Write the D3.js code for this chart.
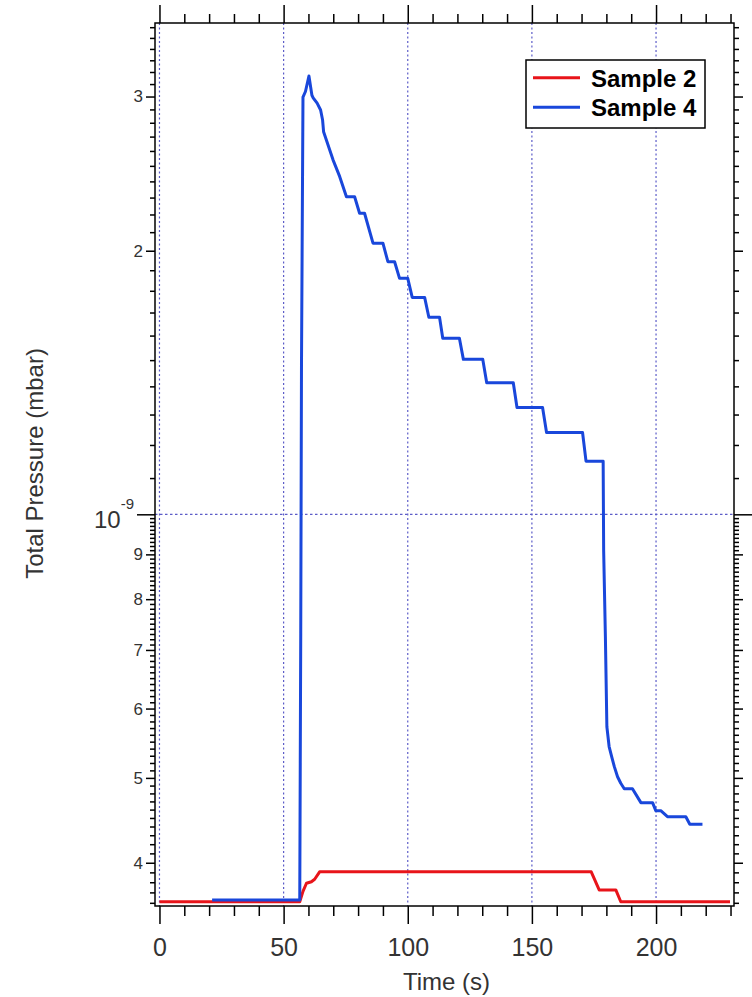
<!DOCTYPE html>
<html>
<head>
<meta charset="utf-8">
<script src="https://cdn.jsdelivr.net/npm/d3@7"></script>
<style>
  body { margin: 0; background: #fff; }
  text { font-family: Arial, "Liberation Sans", sans-serif; }
</style>
</head>
<body>
<div id="chart"></div>
<script>
// Sample 2 (red)
const sample2Time = [0, 56.5, 57.8, 59.2, 61.2, 62.5, 64.5, 173.9, 177.1, 183.8, 185.8, 229.8];
const sample2P = [3.61e-10, 3.61e-10, 3.71e-10, 3.79e-10, 3.805e-10, 3.83e-10, 3.906e-10, 3.906e-10, 3.724e-10, 3.724e-10, 3.61e-10, 3.61e-10];

// Sample 4 (blue)
const sample4Time = [21.2, 56.5, 56.9, 57.2, 57.8, 58.8, 60.2, 61.4, 61.9, 63.5, 64.9, 65.7, 66.1, 69.9, 72.6,
  75.3, 78.6, 80.6, 82.6, 86.0, 90.0, 92.0, 94.7, 96.7, 100.0, 101.8, 106.8, 108.5, 112.8, 114.1, 120.8,
  122.4, 130.2, 131.8, 142.5, 144.0, 154.3, 155.9, 170.4, 171.8, 178.7, 178.9, 179.6, 180.2, 181.1, 182.1,
  183.2, 184.5, 185.8, 187.2, 190.5, 193.9, 198.6, 199.9, 201.9, 204.6, 212.0, 213.6, 218.7];
const sample4P = [3.626e-10, 3.626e-10, 7.32e-10, 1.48e-9, 2.995e-9, 3.04e-9, 3.166e-9, 3.01e-9, 2.99e-9,
  2.948e-9, 2.896e-9, 2.82e-9, 2.735e-9, 2.54e-9, 2.43e-9, 2.305e-9, 2.305e-9, 2.207e-9, 2.207e-9, 2.04e-9,
  2.04e-9, 1.943e-9, 1.943e-9, 1.86e-9, 1.86e-9, 1.769e-9, 1.769e-9, 1.679e-9, 1.679e-9, 1.589e-9, 1.589e-9,
  1.503e-9, 1.503e-9, 1.413e-9, 1.413e-9, 1.324e-9, 1.324e-9, 1.24e-9, 1.24e-9, 1.15e-9, 1.15e-9, 9.1e-10,
  7.25e-10, 5.72e-10, 5.43e-10, 5.29e-10, 5.15e-10, 5.015e-10, 4.93e-10, 4.86e-10, 4.86e-10, 4.685e-10,
  4.685e-10, 4.587e-10, 4.587e-10, 4.515e-10, 4.515e-10, 4.426e-10, 4.426e-10];

// axis ticks
const xMajorTicks = [0, 50, 100, 150, 200];
const yLabelTicks = [4e-10, 5e-10, 6e-10, 7e-10, 8e-10, 9e-10, 2e-9, 3e-9];
const yLabelText = ["4", "5", "6", "7", "8", "9", "2", "3"];
const yDecade = 1e-9;

const seriesNames = ["Sample 2", "Sample 4"];
const seriesColors = ["#e8141a", "#1947db"];

const width = 752, height = 997;
const m = { left: 155, right: 734, top: 23, bottom: 906 };

const svg = d3.select("#chart").append("svg")
  .attr("width", width)
  .attr("height", height);

const x = d3.scaleLinear().domain([-1.8, 231.4]).range([m.left, m.right]);
const y = d3.scaleLog().domain([3.57e-10, 3.64e-9]).range([m.bottom, m.top]);

// minor ticks
const xMinor = d3.range(0, 231, 10).filter(v => v % 50 !== 0);
let yMinor = [];
[3.6, 3.7, 3.8, 3.9].forEach(v => yMinor.push(v * 1e-10));
d3.range(40, 100).forEach(i => { if (i % 10 !== 0) yMinor.push(i / 10 * 1e-10); });
d3.range(11, 37).forEach(i => { if (i % 10 !== 0) yMinor.push(i / 10 * 1e-9); });

// grid
const gridColor = "#5c5cc8";
svg.append("g").selectAll("line")
  .data(xMajorTicks)
  .join("line")
  .attr("x1", d => x(d)).attr("x2", d => x(d))
  .attr("y1", m.top).attr("y2", m.bottom)
  .attr("stroke", gridColor)
  .attr("stroke-width", 1.2)
  .attr("stroke-dasharray", "2,2.5");

svg.append("line")
  .attr("x1", m.left).attr("x2", m.right)
  .attr("y1", y(yDecade)).attr("y2", y(yDecade))
  .attr("stroke", gridColor)
  .attr("stroke-width", 1.2)
  .attr("stroke-dasharray", "2.5,2.5");

// axes (ticks only)
function tickAxis(axis, translate) {
  const g = svg.append("g").attr("transform", translate).call(axis);
  g.select(".domain").remove();
  g.selectAll(".tick line").attr("stroke", "#000").attr("stroke-width", 1.5);
  return g;
}

tickAxis(d3.axisBottom(x).tickValues(xMinor).tickSize(10).tickFormat(""), `translate(0,${m.bottom})`);
const xb = tickAxis(d3.axisBottom(x).tickValues(xMajorTicks).tickSize(18).tickPadding(14).tickFormat(d3.format("d")), `translate(0,${m.bottom})`);
xb.selectAll("text").style("font-size", "25px").attr("fill", "#333");

tickAxis(d3.axisTop(x).tickValues(xMinor).tickSize(9).tickFormat(""), `translate(0,${m.top})`);
tickAxis(d3.axisTop(x).tickValues(xMajorTicks).tickSize(18).tickFormat(""), `translate(0,${m.top})`);

tickAxis(d3.axisLeft(y).tickValues(yMinor).tickSize(5).tickFormat(""), `translate(${m.left},0)`);
const yl = tickAxis(d3.axisLeft(y).tickValues(yLabelTicks).tickSize(9).tickPadding(3)
  .tickFormat((d, i) => yLabelText[i]), `translate(${m.left},0)`);
yl.selectAll("text").style("font-size", "17px").attr("fill", "#333");
tickAxis(d3.axisLeft(y).tickValues([yDecade]).tickSize(18).tickFormat(""), `translate(${m.left},0)`);

tickAxis(d3.axisRight(y).tickValues(yMinor).tickSize(5).tickFormat(""), `translate(${m.right},0)`);
tickAxis(d3.axisRight(y).tickValues(yLabelTicks).tickSize(9).tickFormat(""), `translate(${m.right},0)`);
tickAxis(d3.axisRight(y).tickValues([yDecade]).tickSize(18).tickFormat(""), `translate(${m.right},0)`);

// 10^-9 label
const dec = svg.append("text")
  .attr("x", 134)
  .attr("y", y(yDecade) + 14)
  .attr("text-anchor", "end")
  .attr("fill", "#333")
  .style("font-size", "24px");
dec.append("tspan").text("10");
dec.append("tspan").attr("dy", -19).style("font-size", "15px").text("-9");

// frame
svg.append("rect")
  .attr("x", m.left).attr("y", m.top)
  .attr("width", m.right - m.left).attr("height", m.bottom - m.top)
  .attr("fill", "none")
  .attr("stroke", "#000")
  .attr("stroke-width", 1.5);

// lines
const line = d3.line().x(d => x(d[0])).y(d => y(d[1]));
const series = [
  d3.zip(sample2Time, sample2P),
  d3.zip(sample4Time, sample4P)
];
series.forEach((s, i) => {
  svg.append("path")
    .datum(s)
    .attr("d", line)
    .attr("fill", "none")
    .attr("stroke", seriesColors[i])
    .attr("stroke-width", 3)
    .attr("stroke-linejoin", "round");
});

// axis labels
svg.append("text")
  .attr("x", (m.left + m.right) / 2 + 2)
  .attr("y", 990)
  .attr("text-anchor", "middle")
  .attr("fill", "#333")
  .style("font-size", "24px")
  .text("Time (s)");

svg.append("text")
  .attr("transform", `translate(43,${(m.top + m.bottom) / 2 - 1}) rotate(-90)`)
  .attr("text-anchor", "middle")
  .attr("fill", "#333")
  .style("font-size", "24px")
  .text("Total Pressure (mbar)");

// legend
const lg = svg.append("g");
lg.append("rect")
  .attr("x", 526).attr("y", 60)
  .attr("width", 179).attr("height", 68)
  .attr("fill", "#fff")
  .attr("stroke", "#000")
  .attr("stroke-width", 1.5);
seriesNames.forEach((name, i) => {
  const ly = 77.7 + i * 29.6;
  lg.append("line")
    .attr("x1", 533).attr("x2", 580)
    .attr("y1", ly).attr("y2", ly)
    .attr("stroke", seriesColors[i])
    .attr("stroke-width", 3);
  lg.append("text")
    .attr("x", 591)
    .attr("y", ly + 9)
    .style("font-size", "24px")
    .style("font-weight", "bold")
    .text(name);
});
</script>
</body>
</html>
